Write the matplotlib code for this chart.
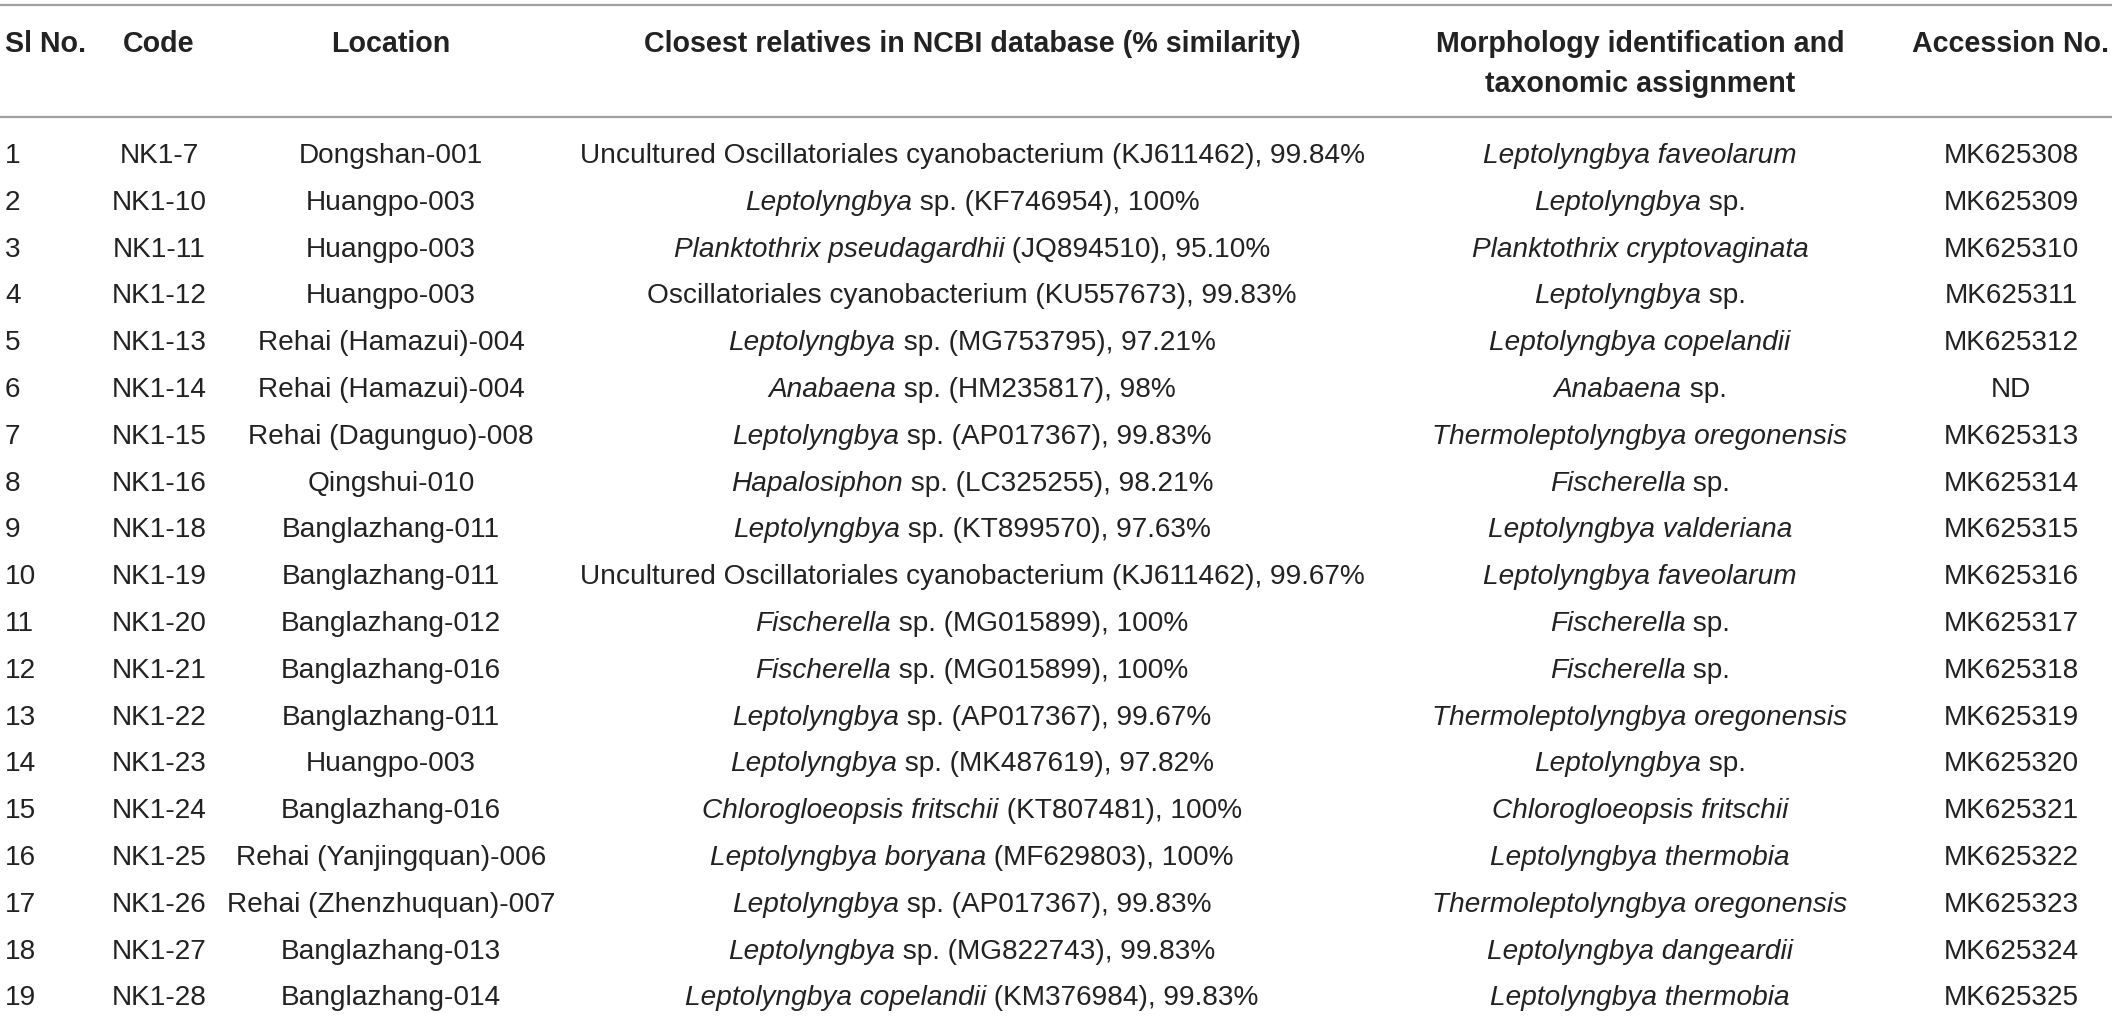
"""
Cyanobacteria isolates table redrawn with matplotlib
"""

import matplotlib
matplotlib.use("Agg")
import matplotlib.pyplot as plt

# table contents
sl_no = list(range(1, 20))
codes = ["NK1-7", "NK1-10", "NK1-11", "NK1-12", "NK1-13", "NK1-14", "NK1-15",
         "NK1-16", "NK1-18", "NK1-19", "NK1-20", "NK1-21", "NK1-22", "NK1-23",
         "NK1-24", "NK1-25", "NK1-26", "NK1-27", "NK1-28"]
locations = ["Dongshan-001", "Huangpo-003", "Huangpo-003", "Huangpo-003",
             "Rehai (Hamazui)-004", "Rehai (Hamazui)-004", "Rehai (Dagunguo)-008",
             "Qingshui-010", "Banglazhang-011", "Banglazhang-011", "Banglazhang-012",
             "Banglazhang-016", "Banglazhang-011", "Huangpo-003", "Banglazhang-016",
             "Rehai (Yanjingquan)-006", "Rehai (Zhenzhuquan)-007", "Banglazhang-013",
             "Banglazhang-014"]
# *...* marks italic parts
relatives = [
    "Uncultured Oscillatoriales cyanobacterium (KJ611462), 99.84%",
    "*Leptolyngbya* sp. (KF746954), 100%",
    "*Planktothrix pseudagardhii* (JQ894510), 95.10%",
    "Oscillatoriales cyanobacterium (KU557673), 99.83%",
    "*Leptolyngbya* sp. (MG753795), 97.21%",
    "*Anabaena* sp. (HM235817), 98%",
    "*Leptolyngbya* sp. (AP017367), 99.83%",
    "*Hapalosiphon* sp. (LC325255), 98.21%",
    "*Leptolyngbya* sp. (KT899570), 97.63%",
    "Uncultured Oscillatoriales cyanobacterium (KJ611462), 99.67%",
    "*Fischerella* sp. (MG015899), 100%",
    "*Fischerella* sp. (MG015899), 100%",
    "*Leptolyngbya* sp. (AP017367), 99.67%",
    "*Leptolyngbya* sp. (MK487619), 97.82%",
    "*Chlorogloeopsis fritschii* (KT807481), 100%",
    "*Leptolyngbya boryana* (MF629803), 100%",
    "*Leptolyngbya* sp. (AP017367), 99.83%",
    "*Leptolyngbya* sp. (MG822743), 99.83%",
    "*Leptolyngbya copelandii* (KM376984), 99.83%",
]
morphology = [
    "*Leptolyngbya faveolarum*", "*Leptolyngbya* sp.", "*Planktothrix cryptovaginata*",
    "*Leptolyngbya* sp.", "*Leptolyngbya copelandii*", "*Anabaena* sp.",
    "*Thermoleptolyngbya oregonensis*", "*Fischerella* sp.", "*Leptolyngbya valderiana*",
    "*Leptolyngbya faveolarum*", "*Fischerella* sp.", "*Fischerella* sp.",
    "*Thermoleptolyngbya oregonensis*", "*Leptolyngbya* sp.", "*Chlorogloeopsis fritschii*",
    "*Leptolyngbya thermobia*", "*Thermoleptolyngbya oregonensis*",
    "*Leptolyngbya dangeardii*", "*Leptolyngbya thermobia*",
]
accessions = ["MK625308", "MK625309", "MK625310", "MK625311", "MK625312", "ND",
              "MK625313", "MK625314", "MK625315", "MK625316", "MK625317", "MK625318",
              "MK625319", "MK625320", "MK625321", "MK625322", "MK625323", "MK625324",
              "MK625325"]
headers = [["Sl No."], ["Code"], ["Location"],
           ["Closest relatives in NCBI database (% similarity)"],
           ["Morphology identification and", "taxonomic assignment"],
           ["Accession No."]]

FONT = ["Liberation Sans", "DejaVu Sans"]
SIZE = 20.2
HEAD_SIZE = 20.6
TEXT_COLOR = "#222222"
RULE_COLOR = "#a0a0a0"

W, H = 2117, 1025
fig = plt.figure(figsize=(W / 100, H / 100), dpi=100)
ax = fig.add_axes([0, 0, 1, 1])
ax.set_xlim(0, W)
ax.set_ylim(H, 0)
ax.axis("off")
renderer = fig.canvas.get_renderer()


def split_markup(s):
    """Split '*italic* normal' into (text, italic) pieces"""
    parts = s.split("*")
    return [(p, i % 2 == 1) for i, p in enumerate(parts) if p]


def draw_mixed(x, y, s):
    """Centre a line made of italic and upright pieces on x"""
    texts = []
    for txt, ital in split_markup(s):
        t = ax.text(0, y, txt, fontsize=SIZE, family=FONT, color=TEXT_COLOR,
                    style="italic" if ital else "normal", va="baseline", ha="left")
        texts.append(t)
    widths = [t.get_window_extent(renderer).width for t in texts]
    start = x - sum(widths) / 2
    for t, w in zip(texts, widths):
        t.set_x(start)
        start += w


# column anchors (pixels)
col_x = [5, 159, 391, 972, 1640, 2011]
col_ha = ["left", "center", "center", "center", "center", "center"]

# horizontal rules
ax.plot([0, 2112], [5, 5], color=RULE_COLOR, lw=1.6, solid_capstyle="butt")
ax.plot([0, 2112], [117, 117], color=RULE_COLOR, lw=1.6, solid_capstyle="butt")

# header
for hx, ha, lines in zip(col_x, col_ha, headers):
    for k, line in enumerate(lines):
        ax.text(hx, 52 + 40 * k, line, fontsize=HEAD_SIZE, family=FONT,
                weight="bold", color=TEXT_COLOR, ha=ha, va="baseline")

# body
row_y0, row_dy = 163, 46.8
for i in range(len(sl_no)):
    y = row_y0 + i * row_dy
    ax.text(col_x[0], y, str(sl_no[i]), fontsize=SIZE, family=FONT,
            color=TEXT_COLOR, ha="left", va="baseline")
    ax.text(col_x[1], y, codes[i], fontsize=SIZE, family=FONT,
            color=TEXT_COLOR, ha="center", va="baseline")
    ax.text(col_x[2], y, locations[i], fontsize=SIZE, family=FONT,
            color=TEXT_COLOR, ha="center", va="baseline")
    draw_mixed(col_x[3], y, relatives[i])
    draw_mixed(col_x[4], y, morphology[i])
    ax.text(col_x[5], y, accessions[i], fontsize=SIZE, family=FONT,
            color=TEXT_COLOR, ha="center", va="baseline")

fig.savefig("out.png", dpi=100)
